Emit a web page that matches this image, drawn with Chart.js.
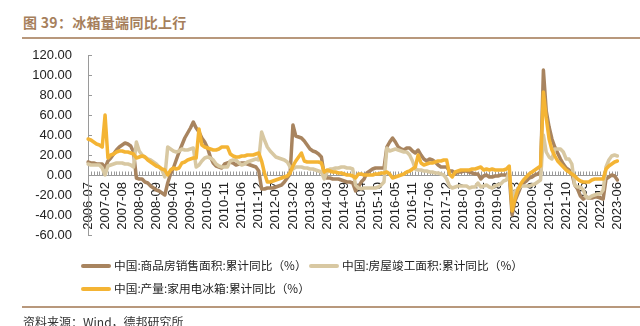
<!DOCTYPE html>
<html>
<head>
<meta charset="utf-8">
<script src="https://cdn.jsdelivr.net/npm/chart.js@4.4.0/dist/chart.umd.min.js"></script>
<style>
    body { margin: 0; background: #fff; }
    #wrap { position: relative; width: 640px; height: 326px; overflow: hidden; font-family: "Noto Sans CJK SC", sans-serif; }
    #chart { position: absolute; left: 0; top: 0; }
    .title { position: absolute; left: 23px; top: 15px; font-size: 14px; line-height: 14px; font-weight: bold; color: #a67f5c; white-space: nowrap; letter-spacing: 0.3px; }
    .rule { position: absolute; left: 22px; right: 0; height: 2px; background: #b8987c; }
    .legend-item { position: absolute; font-size: 11.7px; line-height: 14px; color: #222; white-space: nowrap; }
    .legend-item i { display: inline-block; width: 30px; height: 4px; border-radius: 2px; vertical-align: middle; margin-right: 3px; position: relative; top: -1px; }
    .source { position: absolute; left: 23px; top: 316px; font-size: 12px; line-height: 12px; color: #333; white-space: nowrap; }
</style>
</head>
<body>
<div id="wrap">
    <div class="title">图 39：冰箱量端同比上行</div>
    <div class="rule" style="top:37px"></div>
    <canvas id="chart" width="640" height="326"></canvas>
    <div class="legend-item" style="left:81px; top:258px"><i style="background:#a8845f"></i>中国:商品房销售面积:累计同比（%）</div>
    <div class="legend-item" style="left:309px; top:258px"><i style="background:#d8c8a2"></i>中国:房屋竣工面积:累计同比（%）</div>
    <div class="legend-item" style="left:81px; top:281px"><i style="background:#f4b434"></i>中国:产量:家用电冰箱:累计同比（%）</div>
    <div class="rule" style="top:306px"></div>
    <div class="source">资料来源：Wind，德邦研究所</div>
</div>
<script>
// ================================
// Data (monthly, January not published)
// ================================
const months = [];
for (let y = 2006; y <= 2023; y++) {
    for (let m = 2; m <= 12; m++) {
        if (y === 2006 && m < 7) continue;
        if (y === 2023 && m > 6) break;
        months.push(y + "-" + String(m).padStart(2, "0"));
    }
}

// 商品房销售面积 累计同比
const salesArea = [
    13, 12, 12, 11, 11, 11,                         // 2006-07 .. 12
    7, 14, 17, 21, 25, 28, 30, 32, 31, 29, 23,      // 2007
    -3, -4, -4, -7, -8, -11, -13, -15, -16, -18, -20, // 2008
    -8, 1, 7, 15, 23, 30, 37, 42, 47, 53, 47,       // 2009
    43, 37, 33, 27, 18, 12, 9, 8, 7, 11, 12,        // 2010
    13, 12, 10, 11, 12, 12, 11, 10, 9, 8, 4,        // 2011
    -14, -14, -13, -13, -13, -12, -11, -10, -7, -3, 1, // 2012
    50, 39, 38, 37, 34, 30, 26, 24, 23, 21, 18,     // 2013
    0, -3, -3, -4, -4, -4, -5, -6, -7, -7, -8,      // 2014
    -16, -12, -7, -4, 2, 4, 6, 7, 7, 7, 7,          // 2015
    28, 33, 37, 33, 28, 26, 25, 27, 27, 24, 22,     // 2016
    25, 20, 16, 14, 16, 15, 13, 10, 8, 8, 8,        // 2017
    4, 4, 1, 3, 3, 4, 4, 3, 2, 1, 1,                // 2018
    -4, -1, 0, -2, -2, -1, -1, 0, 0, 0, 0,          // 2019
    -40, -26, -19, -12, -8, -6, -3, -2, 0, 1, 3,    // 2020
    105, 64, 48, 36, 28, 22, 16, 11, 7, 5, 2,       // 2021
    -10, -14, -21, -24, -22, -23, -23, -22, -22, -23, -24, // 2022
    -4, -2, 0, -1, -5                               // 2023-02 .. 06
];

// 房屋竣工面积 累计同比
const completedArea = [
    11, 10, 10, 10, 10, 7,
    0, 9, 10, 11, 12, 12, 12, 11, 11, 10, 8,
    33, 24, 20, 18, 16, 15, 13, 11, 8, 5, -2,
    28, 26, 24, 23, 24, 26, 25, 25, 26, 27, 8,
    10, 14, 17, 18, 17, 15, 11, 9, 8, 8, 8,
    14, 15, 15, 12, 10, 11, 13, 14, 15, 16, 15,
    43, 35, 28, 24, 21, 18, 17, 16, 15, 13, 8,
    6, 8, 8, 8, 7, 7, 6, 6, 5, 4, 3,
    -4, 3, 6, 6, 7, 7, 8, 8, 7, 7, 6,
    -10, -13, -14, -13, -13, -13, -13, -13, -12, -10, -7,
    27, 24, 25, 26, 25, 24, 23, 23, 20, 14, 6,
    5, 5, 4, 4, 3, 3, 2, 2, 1, 0, -4,
    -11, -13, -12, -11, -11, -11, -11, -13, -12, -12, -8,
    -12, -11, -10, -12, -13, -11, -10, -9, -6, -5, 3,
    -23, -16, -15, -11, -11, -11, -11, -10, -9, -7, -5,
    40, 23, 18, 16, 26, 26, 26, 23, 16, 16, 11,
    -10, -12, -12, -15, -22, -23, -21, -20, -19, -19, -15,
    8, 15, 19, 20, 19
];

// 家用电冰箱产量 累计同比
const fridgeOutput = [
    36, 35, 33, 31, 30, 28,
    60, 17, 20, 21, 23, 24, 24, 23, 23, 22, 21,
    17, 18, 19, 18, 15, 13, 11, 9, 8, 6, 5,
    0, 5, 7, 6, 7, 12, 13, 15, 16, 17, 17,
    46, 30, 28, 27, 26, 25, 25, 26, 28, 28, 28,
    21, 19, 18, 18, 19, 19, 20, 20, 20, 21, 22,
    14, 2, -7, -7, -6, -5, -4, -3, -2, -1, 2,
    9, 14, 18, 22, 14, 13, 13, 13, 13, 13, 12,
    3, 5, 4, 3, 3, 2, 2, 1, 0, 0, -1,
    -3, 1, 1, 0, 0, 0, 0, 1, 1, 2, 2,
    3, 1, -3, -2, -1, 0, 1, 3, 4, 6, 8,
    20, 12, 10, 11, 12, 12, 13, 14, 14, 15, 15,
    1, -2, 3, 4, 5, 5, 5, 5, 6, 6, 7,
    8, 5, 6, 5, 6, 5, 5, 5, 5, 6, 9,
    -36, -24, -15, -9, -5, -2, 1, 3, 5, 7, 9,
    83, 57, 36, 25, 19, 14, 11, 8, 5, 3, 1,
    -1, -4, -6, -7, -7, -7, -5, -4, -4, -4, -4,
    6, 9, 11, 13, 14
];

const yTicks = [-60, -40, -20, 0, 20, 40, 60, 80, 100, 120];
const labelEvery = 6;

const axisColor = "#9a9a9a";
const tickFont = { family: "'Liberation Sans', Arial, sans-serif", size: 13 };

// ================================
// Small tick marks: inward on the y axis, upward on the zero line
// ================================
const tickMarks = {
    id: "tickMarks",
    beforeDatasetsDraw(chart) {
        const { ctx, scales } = chart;
        const x = scales.x, y = scales.y;
        const y0 = Math.round(y.getPixelForValue(0)) + 0.5;
        ctx.save();
        ctx.strokeStyle = axisColor;
        ctx.lineWidth = 1;
        ctx.beginPath();
        months.forEach((m, i) => {
            const px = Math.round(x.getPixelForValue(i)) + 0.5;
            ctx.moveTo(px, y0);
            ctx.lineTo(px, y0 - 4);
        });
        yTicks.forEach(v => {
            const py = Math.round(y.getPixelForValue(v)) + 0.5;
            ctx.moveTo(y.right, py);
            ctx.lineTo(y.right + 4, py);
        });
        ctx.stroke();
        ctx.restore();
    }
};

function series(label, data, color, order) {
    return {
        label: label,
        data: data,
        borderColor: color,
        backgroundColor: color,
        borderWidth: 3.5,
        borderJoinStyle: "round",
        borderCapStyle: "round",
        pointRadius: 0,
        tension: 0,
        order: order
    };
}

// ================================
// Chart
// ================================
new Chart(document.getElementById("chart"), {
    type: "line",
    data: {
        labels: months,
        datasets: [
            series("中国:商品房销售面积:累计同比（%）", salesArea, "#a8845f", 3),
            series("中国:房屋竣工面积:累计同比（%）", completedArea, "#d8c8a2", 2),
            series("中国:产量:家用电冰箱:累计同比（%）", fridgeOutput, "#f4b434", 1)
        ]
    },
    options: {
        responsive: false,
        animation: false,
        layout: { padding: { top: 55, bottom: 91, left: 0, right: 18 } },
        plugins: {
            legend: { display: false },
            tooltip: { enabled: false }
        },
        scales: {
            x: {
                type: "category",
                position: { y: 0 },
                grid: { display: true, drawOnChartArea: false, drawTicks: false },
                border: { color: axisColor },
                ticks: {
                    autoSkip: false,
                    minRotation: 90,
                    maxRotation: 90,
                    padding: 7,
                    color: "#222",
                    font: tickFont,
                    callback: function (value, index) {
                        return index % labelEvery === 0 ? this.getLabelForValue(value) : "";
                    }
                }
            },
            y: {
                min: -60,
                max: 120,
                afterFit: function (scale) { scale.width = 88; },
                grid: { display: true, drawOnChartArea: false, drawTicks: false },
                border: { color: axisColor },
                ticks: {
                    stepSize: 20,
                    padding: 16,
                    color: "#222",
                    font: tickFont,
                    callback: v => v.toFixed(2)
                }
            }
        }
    },
    plugins: [tickMarks]
});
</script>
</body>
</html>
